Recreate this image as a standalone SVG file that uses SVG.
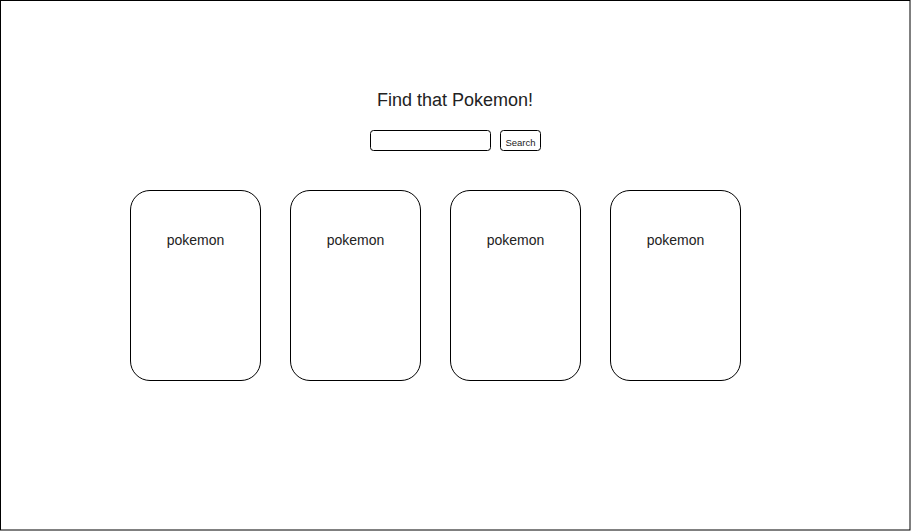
<svg xmlns="http://www.w3.org/2000/svg" width="911" height="531" viewBox="0 0 911 531">
<style>
.box{fill:#fff;stroke:#000;stroke-width:1}
.t{font-family:"Liberation Sans",Arial,sans-serif;fill:#222;text-anchor:middle}
</style>
<rect x="0" y="0" width="911" height="531" fill="#fff"/>
<g id="frame"><rect class="box" x="0.5" y="0.5" width="909.5" height="529.5"/></g>
<g id="title"><text class="t" x="455" y="106" font-size="18">Find that Pokemon!</text></g>
<g id="input"><rect class="box" x="370.5" y="130.5" width="120" height="20" rx="3"/></g>
<g id="search"><rect class="box" x="500.5" y="130.5" width="40" height="20" rx="3"/><text class="t" x="520.5" y="145.5" font-size="9.5">Search</text></g>
<g id="card1"><rect class="box" x="130.5" y="190.5" width="130" height="190" rx="19.5"/><text class="t" x="195.5" y="245" font-size="14">pokemon</text></g>
<g id="card2"><rect class="box" x="290.5" y="190.5" width="130" height="190" rx="19.5"/><text class="t" x="355.5" y="245" font-size="14">pokemon</text></g>
<g id="card3"><rect class="box" x="450.5" y="190.5" width="130" height="190" rx="19.5"/><text class="t" x="515.5" y="245" font-size="14">pokemon</text></g>
<g id="card4"><rect class="box" x="610.5" y="190.5" width="130" height="190" rx="19.5"/><text class="t" x="675.5" y="245" font-size="14">pokemon</text></g>
<g id="connectors"/>
</svg>
